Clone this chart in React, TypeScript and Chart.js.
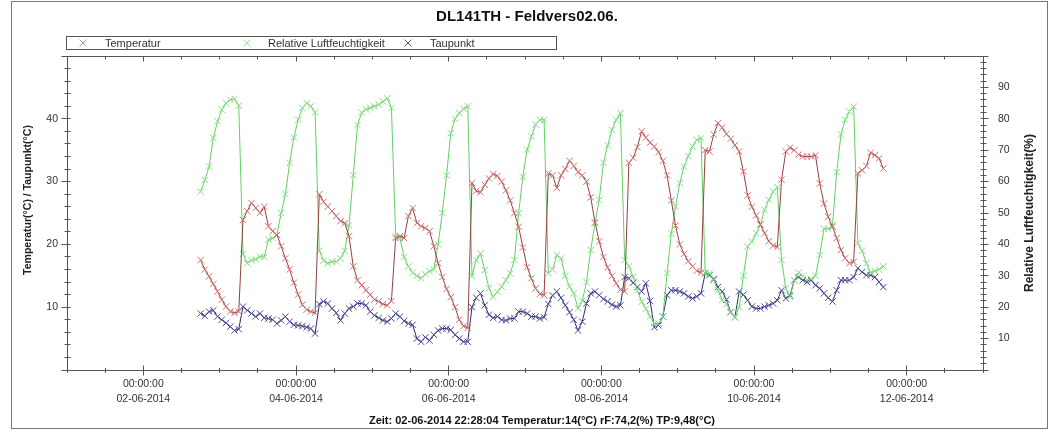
import React, { useEffect, useRef } from 'react';
import { Chart, registerables } from 'chart.js';

Chart.register(...registerables);

const TITLE = 'DL141TH - Feldvers02.06.';
const FOOTER = 'Zeit: 02-06-2014 22:28:04 Temperatur:14(°C) rF:74,2(%) TP:9,48(°C)';
const SERIES_NAMES = ['Temperatur', 'Relative Luftfeuchtigkeit', 'Taupunkt'];
const LEFT_AXIS_TITLE = 'Temperatur(°C) / Taupunkt(°C)';
const RIGHT_AXIS_TITLE = 'Relative Luftfeuchtigkeit(%)';

// time axis in hours since 01-06-2014 00:00:00
const X_MIN = 0;
const X_MAX = 288;
const X_STEP = 12;
const FIRST_LOG_HOUR = 42; // 02-06-2014 18:00
const LOG_INTERVAL_H = 4 / 3; // logger interval 80 min
const TIME_LABEL = '00:00:00';
const MONTH_YEAR = '-06-2014';

const LEFT_MIN = 0;
const LEFT_MAX = 50;
const RIGHT_MIN = 0;
const RIGHT_MAX = 100;

const temperatur = [
  17.5, 16.0, 14.9, 13.7, 12.5, 11.2, 10.1, 9.3, 9.1, 9.3,
  23.9, 25.3, 26.6, 25.8, 25.0, 26.0, 22.9, 22.1, 21.5, 19.7,
  17.8, 16.0, 13.9, 12.0, 10.4, 9.6, 9.3, 9.1, 28.0, 26.8,
  26.0, 25.3, 24.5, 23.7, 23.4, 21.3, 16.5, 14.3, 13.5, 12.7,
  12.0, 11.2, 10.9, 10.5, 10.3, 11.0, 21.0, 21.3, 21.0, 24.5,
  25.8, 23.4, 22.9, 22.6, 22.1, 19.7, 17.0, 14.8, 12.9, 11.6,
  10.0, 8.0, 7.0, 6.7, 29.8, 28.5, 28.3, 29.5, 30.5, 31.2,
  30.9, 30.0, 28.6, 27.0, 25.0, 22.8, 19.5, 16.4, 14.6, 13.0,
  12.1, 11.9, 31.3, 31.0, 29.0, 31.0, 32.0, 33.3, 32.5, 31.5,
  31.0, 30.0, 27.5, 23.5, 20.5, 18.0, 16.3, 15.0, 13.8, 12.8,
  12.5, 33.0, 33.8, 35.5, 38.0, 37.0, 36.2, 35.6, 34.7, 33.3,
  31.0, 27.0, 23.0, 20.0, 18.5, 17.3, 16.5, 15.8, 15.5, 35.0,
  34.8, 37.5, 39.3, 38.6, 37.6, 36.8, 35.8, 34.8, 31.6, 27.8,
  26.0, 24.6, 23.2, 21.8, 20.5, 19.8, 19.6, 30.3, 34.8, 35.4,
  35.0, 34.3, 34.0, 34.0, 34.0, 34.2, 29.7, 26.5, 24.4, 22.8,
  21.0, 19.1, 17.8, 17.0, 17.2, 31.3, 31.8, 32.5, 34.6, 34.2,
  33.7, 32.1,
];

const luftfeuchte = [
  56.8, 60.5, 64.8, 73.9, 79.2, 82.9, 85.0, 86.1, 86.3, 84.2,
  37.0, 34.0, 35.0, 35.2, 36.1, 36.0, 41.5, 42.0, 43.0, 50.0,
  56.0, 66.0, 74.0, 79.7, 83.4, 85.0, 84.0, 82.0, 38.0, 34.8,
  34.0, 34.5, 34.5, 35.5, 38.0, 46.0, 62.0, 78.0, 82.0, 83.0,
  83.5, 84.0, 84.5, 85.5, 86.5, 83.5, 42.5, 42.0, 36.0, 33.0,
  31.0, 30.0, 29.2, 30.5, 31.5, 32.0, 40.0, 50.0, 62.0, 75.4,
  80.0, 81.8, 83.2, 84.0, 30.0, 35.0, 37.1, 31.8, 26.0, 23.3,
  24.9, 26.5, 28.6, 30.8, 35.0, 49.9, 61.6, 70.2, 74.4, 78.2,
  79.7, 79.7, 30.8, 32.0, 36.6, 35.5, 30.0, 26.5, 24.4, 19.6,
  22.0, 28.0, 38.2, 46.7, 54.2, 66.0, 71.5, 76.5, 79.7, 81.8,
  35.0, 33.0, 29.7, 25.4, 21.7, 19.5, 17.0, 14.8, 14.8, 17.0,
  30.8, 43.5, 52.0, 59.5, 64.8, 68.1, 71.2, 73.3, 73.8, 30.8,
  30.8, 28.6, 25.4, 22.3, 21.0, 18.5, 16.9, 20.0, 30.0, 39.3,
  40.9, 43.5, 46.2, 51.0, 54.2, 56.8, 58.2, 35.0, 26.0, 23.3,
  28.6, 31.0, 30.0, 28.6, 29.0, 30.0, 36.6, 45.0, 45.0, 46.0,
  63.0, 75.0, 79.7, 82.3, 83.9, 40.3, 38.0, 34.0, 31.0, 31.5,
  32.0, 33.0,
];

const taupunkt = [
  9.0, 8.6, 9.3, 9.5, 8.5, 8.0, 7.5, 6.9, 6.3, 6.5,
  10.1, 9.5, 9.0, 8.5, 9.0, 8.3, 8.2, 8.0, 7.4, 7.9,
  8.5, 7.7, 7.2, 7.1, 7.0, 6.8, 6.6, 5.8, 10.5, 10.9,
  10.6, 9.8, 9.1, 7.9, 9.0, 9.8, 10.1, 10.6, 10.6, 10.3,
  9.3, 8.7, 8.3, 7.9, 7.7, 8.2, 9.0, 8.5, 7.8, 7.4,
  7.2, 5.0, 4.5, 5.2, 4.7, 5.6, 6.3, 6.6, 6.6, 6.4,
  5.6, 5.0, 4.5, 4.5, 10.0, 11.5, 12.2, 10.3, 8.8, 8.3,
  8.5, 8.0, 7.9, 8.2, 8.2, 9.3, 9.3, 9.0, 8.5, 8.5,
  8.2, 8.4, 10.5, 11.9, 12.5, 11.5, 10.3, 9.2, 8.0, 6.3,
  7.7, 10.6, 12.2, 12.5, 11.9, 11.3, 10.9, 10.4, 10.1, 10.3,
  14.8, 14.6, 13.9, 13.2, 12.5, 13.8, 11.0, 6.8, 7.1, 8.5,
  11.9, 12.7, 12.7, 12.5, 12.2, 11.7, 11.4, 11.7, 12.2, 15.4,
  15.1, 14.5, 13.2, 12.5, 11.2, 9.2, 8.4, 12.5, 12.0, 11.1,
  10.1, 9.8, 9.8, 10.1, 10.3, 10.6, 11.1, 12.7, 11.4, 11.9,
  14.3, 14.8, 14.3, 14.0, 14.3, 13.5, 13.0, 12.2, 11.5, 10.9,
  12.7, 14.3, 14.3, 14.3, 14.8, 16.2, 15.6, 15.1, 15.1, 14.8,
  14.0, 13.2,
];

const FONT = '"Liberation Sans", Arial, sans-serif';
const AXIS_COLOR = '#555555';
const TEXT_COLOR = '#333333';

const TEMP_LINE = '#94403f';
const TEMP_POINT = '#cf6e6e';
const HUM_LINE = '#62d062';
const HUM_POINT = '#82de82';
const DEW_LINE = '#2c2c6a';
const DEW_POINT = '#4a4a98';
const LEGEND_MARKS = ['#b89a9a', '#9ee09e', '#555566'];

const zeit = temperatur.map((_, i) => FIRST_LOG_HOUR + i * LOG_INTERVAL_H);
const toXY = (vals: number[]) => vals.map((v, i) => ({ x: zeit[i], y: v }));

const isMajorX = (h: number) => Math.abs(h % 48 - 24) < 1e-6;

const crisp = (v: number) => Math.round(v - 0.5) + 0.5;

const decorPlugin = {
  id: 'decor',
  afterDraw(chart: any) {
    const { ctx, chartArea: a, scales } = chart;
    const line = (x1: number, y1: number, x2: number, y2: number) => {
      ctx.beginPath();
      ctx.moveTo(x1, y1);
      ctx.lineTo(x2, y2);
      ctx.stroke();
    };
    ctx.save();
    ctx.lineWidth = 1;
    // outer frame
    ctx.strokeStyle = '#777777';
    ctx.strokeRect(11.5, 1.5, 1036, 427);

    // plot frame
    ctx.strokeStyle = AXIS_COLOR;
    const L = crisp(a.left);
    const R = crisp(a.right);
    const T = crisp(a.top);
    const B = crisp(a.bottom);
    ctx.strokeRect(L, T, R - L, B - T);

    // x ticks (bottom + mirrored on top)
    const xs = scales.x;
    xs.ticks.forEach((t: any) => {
      const px = crisp(xs.getPixelForValue(t.value));
      const major = isMajorX(t.value);
      const len = major ? 5 : 2.5;
      line(px, B - len, px, B + len);
      line(px, T, px, T + (major ? 5 : 3));
    });
    // left ticks
    const yl = scales.yL;
    yl.ticks.forEach((t: any) => {
      const py = crisp(yl.getPixelForValue(t.value));
      const major = t.value % 10 === 0;
      line(L - (major ? 6 : 3), py, L + 3, py);
    });
    // right ticks
    const yr = scales.yR;
    yr.ticks.forEach((t: any) => {
      const py = crisp(yr.getPixelForValue(t.value));
      const major = t.value % 10 === 0;
      line(R - 3, py, R + (major ? 5 : 3), py);
    });

    // title
    ctx.fillStyle = '#111111';
    ctx.font = `bold 15px ${FONT}`;
    ctx.textAlign = 'center';
    ctx.textBaseline = 'middle';
    ctx.fillText(TITLE, 527, 17);

    // legend box
    ctx.strokeStyle = AXIS_COLOR;
    ctx.strokeRect(66.5, 36.5, 490, 13);
    const legendMarkX = [83, 247, 408];
    const legendTextX = [105, 268, 430];
    const ly = 43;
    ctx.font = `11px ${FONT}`;
    ctx.textAlign = 'left';
    SERIES_NAMES.forEach((name, i) => {
      ctx.strokeStyle = LEGEND_MARKS[i];
      const mx = legendMarkX[i];
      line(mx - 3.5, ly - 3.5, mx + 3.5, ly + 3.5);
      line(mx - 3.5, ly + 3.5, mx + 3.5, ly - 3.5);
      ctx.fillStyle = TEXT_COLOR;
      ctx.fillText(name, legendTextX[i], ly + 0.5);
    });

    // axis titles
    ctx.fillStyle = '#222222';
    ctx.textAlign = 'center';
    ctx.save();
    ctx.font = `bold 10.5px ${FONT}`;
    ctx.translate(28, 200);
    ctx.rotate(-Math.PI / 2);
    ctx.fillText(LEFT_AXIS_TITLE, 0, 0);
    ctx.restore();
    ctx.save();
    ctx.font = `bold 12px ${FONT}`;
    ctx.translate(1030, 213);
    ctx.rotate(-Math.PI / 2);
    ctx.fillText(RIGHT_AXIS_TITLE, 0, 0);
    ctx.restore();

    // footer
    ctx.fillStyle = '#111111';
    ctx.font = `bold 11px ${FONT}`;
    ctx.fillText(FOOTER, 542, 421);
    ctx.restore();
  },
};

const makeDataset = (label: string, data: number[], line: string, point: string, axis: string) => ({
  label,
  data: toXY(data),
  yAxisID: axis,
  borderColor: line,
  backgroundColor: point,
  borderWidth: 1,
  pointStyle: 'crossRot',
  pointRadius: 4.5,
  pointBorderWidth: 1,
  pointBorderColor: point,
  pointBackgroundColor: point,
  tension: 0,
  fill: false,
});

export default function App() {
  const canvasRef = useRef<HTMLCanvasElement | null>(null);

  useEffect(() => {
    if (!canvasRef.current) return;
    const tickFont = { family: FONT, size: 10.5, lineHeight: 1.4 };
    const chart = new Chart(canvasRef.current, {
      type: 'line',
      data: {
        datasets: [
          makeDataset(SERIES_NAMES[0], temperatur, TEMP_LINE, TEMP_POINT, 'yL'),
          makeDataset(SERIES_NAMES[1], luftfeuchte, HUM_LINE, HUM_POINT, 'yR'),
          makeDataset(SERIES_NAMES[2], taupunkt, DEW_LINE, DEW_POINT, 'yL'),
        ],
      },
      options: {
        animation: false,
        responsive: true,
        maintainAspectRatio: false,
        layout: { padding: { top: 56, left: 0, right: 0, bottom: 0 } },
        plugins: {
          legend: { display: false },
          title: { display: false },
          tooltip: { enabled: false },
        },
        scales: {
          x: {
            type: 'linear',
            position: 'bottom',
            min: X_MIN,
            max: X_MAX,
            grid: { display: false, drawTicks: false },
            border: { display: false },
            afterFit: (s: any) => { s.height = 60; },
            afterBuildTicks: (s: any) => {
              const t = [];
              for (let v = X_MIN; v <= X_MAX; v += X_STEP) t.push({ value: v });
              s.ticks = t;
            },
            ticks: {
              autoSkip: false,
              maxRotation: 0,
              padding: 7,
              color: TEXT_COLOR,
              font: tickFont,
              callback: (v: any) => {
                const h = Number(v);
                if (!isMajorX(h)) return '';
                const day = h / 24 + 1;
                return [TIME_LABEL, String(day).padStart(2, '0') + MONTH_YEAR];
              },
            },
          },
          yL: {
            type: 'linear',
            position: 'left',
            min: LEFT_MIN,
            max: LEFT_MAX,
            grid: { display: false, drawTicks: false },
            border: { display: false },
            afterFit: (s: any) => { s.width = 67; },
            ticks: {
              stepSize: 2,
              autoSkip: false,
              padding: 9,
              color: TEXT_COLOR,
              font: { family: FONT, size: 10.5 },
              callback: (v: any) => {
                const n = Number(v);
                return n % 10 === 0 && n > LEFT_MIN && n < LEFT_MAX ? String(n) : '';
              },
            },
          },
          yR: {
            type: 'linear',
            position: 'right',
            min: RIGHT_MIN,
            max: RIGHT_MAX,
            grid: { display: false, drawTicks: false },
            border: { display: false },
            afterFit: (s: any) => { s.width = 71; },
            ticks: {
              stepSize: 2,
              autoSkip: false,
              padding: 15,
              color: TEXT_COLOR,
              font: { family: FONT, size: 10.5 },
              callback: (v: any) => {
                const n = Number(v);
                return n % 10 === 0 && n > RIGHT_MIN && n < RIGHT_MAX ? String(n) : '';
              },
            },
          },
        },
      } as any,
      plugins: [decorPlugin],
    });
    return () => chart.destroy();
  }, []);

  return (
    <div style={{ position: 'fixed', left: 0, top: 0, width: 1054, height: 430, background: '#ffffff' }}>
      <canvas ref={canvasRef} />
    </div>
  );
}
